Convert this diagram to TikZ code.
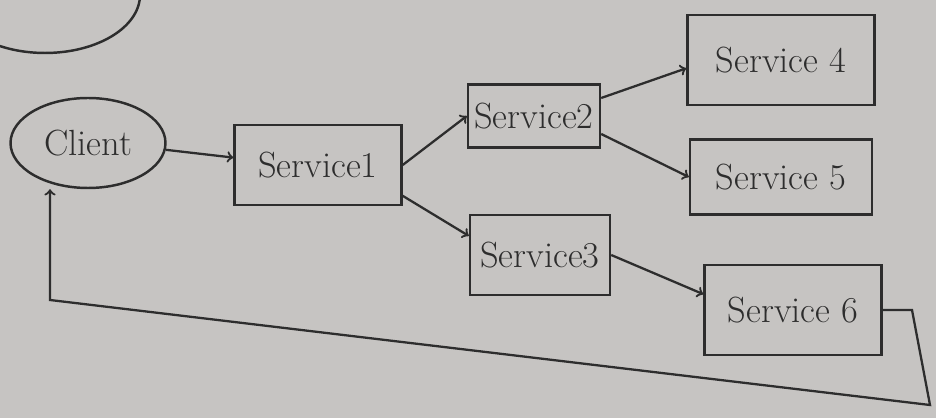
\documentclass[tikz,border=0pt]{standalone}
\usetikzlibrary{arrows, shapes.geometric}
\definecolor{paper}{RGB}{198,196,194}
\definecolor{ink}{RGB}{45,45,45}
\tikzset{
        ->, % every connector is directed
        >=to,
        every node/.style={text=ink},
    }
\tikzset{
      service box/.style={
		draw=ink,
		line width=1.4pt,
		inner sep=2pt,
		minimum width={#1cm},
		minimum height={1.6cm},
		font=\huge,
	  },
  		client oval/.style={
    	ellipse, draw=ink, line width=1.4pt,
    	minimum width=3.1cm, minimum height=1.8cm,
    	inner sep=1pt, font=\huge,
      },
      link/.style={draw=ink, line width=1.3pt},
  	}
\begin{document}
\begin{tikzpicture}[x=0.02cm, y=-0.02cm]
    \fill[paper] (0,0) rectangle (936,418);
    \useasboundingbox (0,0) rectangle (936,418);
    % part of an oval cut by the top edge
    \begin{scope}
      \clip (0,0) rectangle (936,418);
      \draw[-, ink, line width=1.4pt] (45,-5) ellipse [x radius=1.9cm, y radius=1.16cm];
    \end{scope}
    \node [client oval] (client) at (88,143) {Client};
    \node [service box=3.34] (s1) at (318,165) {Service1};
    \node [service box=2.64, minimum height=1.26cm] (s2) at (534,116) {Service2};
    \node [service box=2.8] (s3) at (540,255) {Service3};
    \node [service box=3.74, minimum height=1.8cm] (s4) at (781,60) {Service 4};
    \node [service box=3.64, minimum height=1.5cm] (s5) at (781,177) {Service 5};
    \node [service box=3.54, minimum height=1.8cm] (s6) at (793,310) {Service 6};
    \draw [link] (client.-5) -- (s1.175);
    \draw [link] (s1.east) -- (s2.west);
    \draw [link] (s1.-20) -- (s3.165);
    \draw [link] (s2.15) -- (s4.185);
    \draw [link] (s2.-15) -- (s5.west);
    \draw [link] (s3.east) -- (s6.170);
    % way back to the client
    \coordinate (r1) at (912,310);
    \coordinate (r2) at (930,405);
    \coordinate (r3) at (50,300);
    \draw [link] (s6.east) -- (r1) -- (r2) -- (r3) -- (r3 |- client.south);
  \end{tikzpicture}
\end{document}
